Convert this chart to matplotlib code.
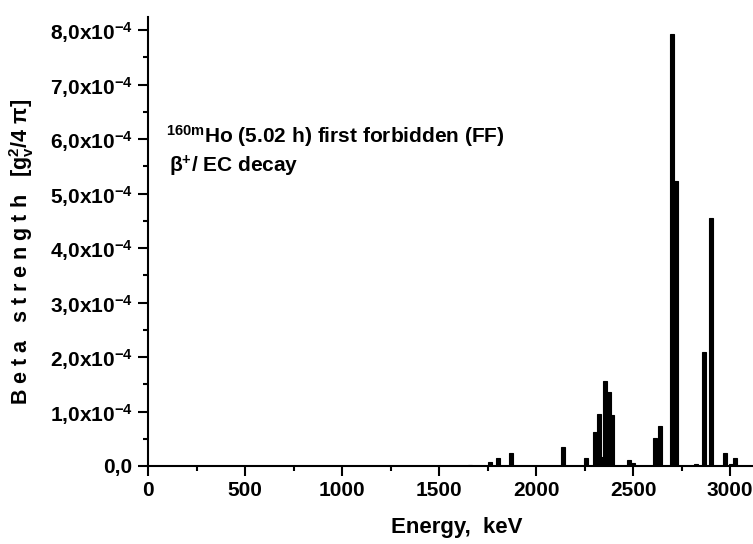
import matplotlib
matplotlib.use("Agg")
import matplotlib.pyplot as plt
from matplotlib.ticker import MultipleLocator, FuncFormatter

# Data (energy in keV, beta strength in units of 1e-4 g_v^2/4pi)
energies = [1660, 1760, 1805, 1870, 2140, 2255, 2301, 2326, 2343, 2356, 2376, 2392,
            2477, 2500, 2611, 2637, 2698, 2722, 2822, 2866, 2899, 2971, 3005, 3026]
strength_e4 = [0.02, 0.08, 0.15, 0.24, 0.35, 0.15, 0.62, 0.95, 0.17, 1.56, 1.35, 0.94,
               0.11, 0.05, 0.51, 0.73, 7.93, 5.23, 0.04, 2.09, 4.55, 0.24, 0.03, 0.15]
strength = [v * 1e-4 for v in strength_e4]
x_ticks = [0, 500, 1000, 1500, 2000, 2500, 3000]

plt.rcParams['font.family'] = ['Liberation Sans', 'DejaVu Sans']
plt.rcParams['font.weight'] = 'bold'
plt.rcParams['mathtext.fontset'] = 'custom'
plt.rcParams['mathtext.rm'] = 'Liberation Sans:bold'
plt.rcParams['mathtext.bf'] = 'Liberation Sans:bold'
plt.rcParams['mathtext.sf'] = 'Liberation Sans'
plt.rcParams['mathtext.it'] = 'Liberation Sans:bold'
plt.rcParams['mathtext.default'] = 'rm'

W, H = 753, 544
fig = plt.figure(figsize=(W / 100, H / 100), dpi=100)
left, bottom, top_px = 148, 466, 17
ax = fig.add_axes([left / W, (H - bottom) / H, (769 - left) / W, (bottom - top_px) / H])

ax.bar(energies, strength, width=21, color='black', edgecolor='black', linewidth=0.8)

ax.set_xlim(0, 3200)
ax.set_ylim(0, 8.24e-4)
ax.set_xticks(x_ticks)
ax.xaxis.set_minor_locator(MultipleLocator(250))
ax.yaxis.set_major_locator(MultipleLocator(1e-4))
ax.yaxis.set_minor_locator(MultipleLocator(0.5e-4))


def yfmt(v, pos):
    if abs(v) < 1e-12:
        return '0,0'
    return f'{v * 1e4:.1f}'.replace('.', ',') + 'x10$^{-4}$'


ax.yaxis.set_major_formatter(FuncFormatter(yfmt))

for s in ['top', 'right']:
    ax.spines[s].set_visible(False)
for s in ['left', 'bottom']:
    ax.spines[s].set_linewidth(1.5)

ax.tick_params(which='major', direction='out', length=7, width=1.5)
ax.tick_params(which='minor', direction='out', length=3.5, width=1.5)
ax.tick_params(axis='x', labelsize=15, pad=4)
ax.tick_params(axis='y', labelsize=15, pad=4)
for lbl in ax.get_xticklabels() + ax.get_yticklabels():
    lbl.set_fontweight('bold')

fig.text(457 / W, 1 - 527 / H, 'Energy,  keV', ha='center', va='center',
         fontsize=16, fontweight='bold')
fig.text(22 / W, 1 - 252 / H, 'B e t a   s t r e n g t h   [g$_{v}^{2}$/4 π]',
         rotation=90, ha='center', va='center', fontsize=15.5, fontweight='bold')

fig.text(166 / W, 1 - 143 / H,
         r'$^{160m}$Ho $\mathsf{(5.02\ h)}$ first forbidden (FF)',
         ha='left', va='baseline', fontsize=15, fontweight='bold')
fig.text(169 / W, 1 - 172 / H, 'β$^{+}$/ EC decay',
         ha='left', va='baseline', fontsize=15, fontweight='bold')

fig.savefig('out.png', dpi=100)
